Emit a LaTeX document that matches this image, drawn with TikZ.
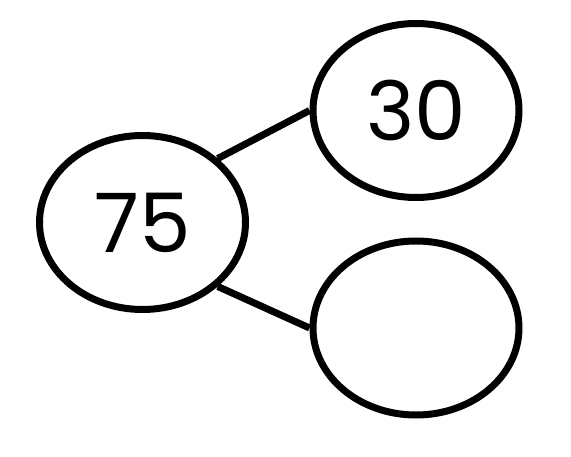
\documentclass[tikz,border=0pt]{standalone}
\usepackage{fontspec}
\setmainfont{Poppins}
\usepackage{tikz}
\usetikzlibrary{shapes.geometric}
\definecolor{ink}{HTML}{000000}

\tikzset{
  bubble/.style={draw=ink, ellipse, line width=7pt, inner sep=0pt,
    minimum width=206pt, minimum height=174pt, text=ink,
    font=\fontsize{82}{88}\selectfont},
  link/.style={draw=ink, line width=7pt}
}

\begin{document}
\begin{tikzpicture}[x=1pt,y=-1pt]
  \useasboundingbox (0,0) rectangle (571,457);
  \node[bubble] (whole) at (142.5,222.5) {75};
  \node[bubble] (partA) at (416,110.5) {30};
  \node[bubble] (partB) at (416,328) {};
  \draw[link] (whole.north east) -- (partA.west);
  \draw[link] (whole.south east) -- (partB.west);
\end{tikzpicture}
\end{document}
